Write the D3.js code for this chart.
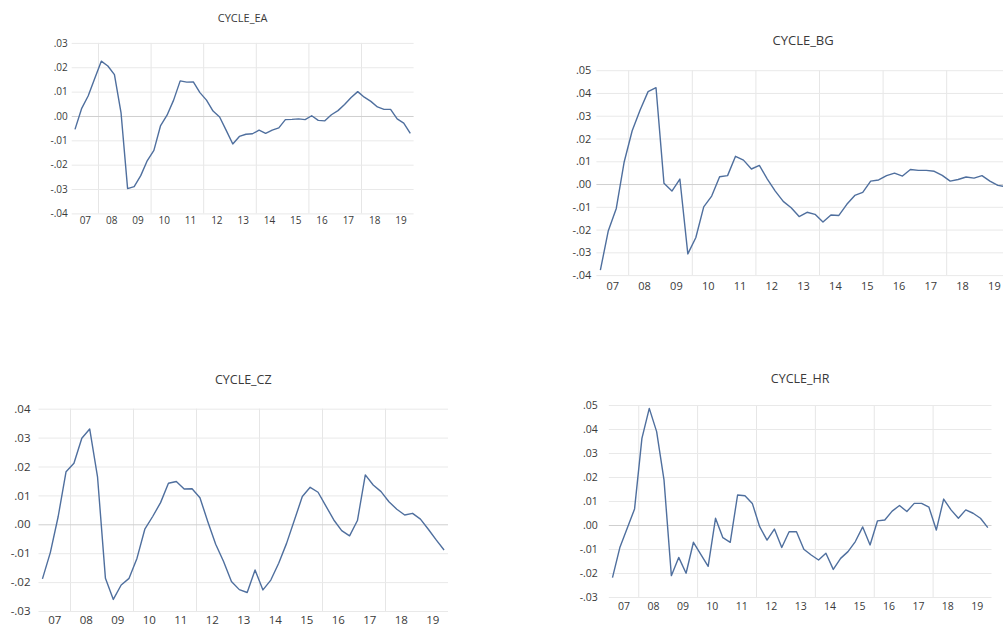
<!DOCTYPE html>
<html>
<head>
<meta charset="utf-8">
<script src="https://cdn.jsdelivr.net/npm/d3@7"></script>
<style>
  body { margin: 0; background: #fff; }
  svg { display: block; }
  text { font-family: "Open Sans", "Noto Sans", sans-serif; fill: #3a3a3a; }
</style>
</head>
<body>
<svg id="chart" width="1003" height="628"></svg>
<script>
// quarterly cycles, 2007Q1 .. 2019Q4
var years = ["07","08","09","10","11","12","13","14","15","16","17","18","19"];
var gridYears = ["08","10","12","14","16","18"];

var cycleEA = [
  -0.0055, 0.0030, 0.0082, 0.0154, 0.0225, 0.0205, 0.0170, 0.0014,
  -0.0298, -0.0290, -0.0245, -0.0183, -0.0141, -0.0041, 0.0003, 0.0065,
  0.0144, 0.0139, 0.0140, 0.0096, 0.0065, 0.0020, -0.0004, -0.0059,
  -0.0115, -0.0084, -0.0075, -0.0073, -0.0058, -0.0071, -0.0058, -0.0049,
  -0.0015, -0.0014, -0.0012, -0.0015, 0.0001, -0.0018, -0.0020, 0.0005,
  0.0022, 0.0047, 0.0076, 0.0100, 0.0077, 0.0060, 0.0037, 0.0027,
  0.0027, -0.0012, -0.0029, -0.0071
];
var cycleBG = [
  -0.0378, -0.0205, -0.0107, 0.0098, 0.0234, 0.0325, 0.0406, 0.0423,
  0.0003, -0.0031, 0.0022, -0.0307, -0.0236, -0.0100, -0.0053, 0.0032,
  0.0037, 0.0122, 0.0105, 0.0066, 0.0082, 0.0022, -0.0031, -0.0076,
  -0.0104, -0.0143, -0.0124, -0.0133, -0.0167, -0.0136, -0.0138, -0.0089,
  -0.0050, -0.0037, 0.0013, 0.0018, 0.0037, 0.0048, 0.0035, 0.0064,
  0.0060, 0.0060, 0.0056, 0.0038, 0.0013, 0.0020, 0.0031, 0.0026,
  0.0037, 0.0013, -0.0006, -0.0012
];
var cycleCZ = [
  -0.0189, -0.0098, 0.0027, 0.0182, 0.0211, 0.0298, 0.0330, 0.0163,
  -0.0187, -0.0260, -0.0210, -0.0187, -0.0118, -0.0017, 0.0027, 0.0075,
  0.0142, 0.0148, 0.0122, 0.0123, 0.0092, 0.0009, -0.0069, -0.0129,
  -0.0198, -0.0226, -0.0236, -0.0158, -0.0227, -0.0193, -0.0135, -0.0066,
  0.0015, 0.0096, 0.0128, 0.0111, 0.0063, 0.0015, -0.0022, -0.0040,
  0.0013, 0.0171, 0.0136, 0.0113, 0.0078, 0.0052, 0.0032, 0.0038,
  0.0018, -0.0017, -0.0054, -0.0089
];
var cycleHR = [
  -0.0219, -0.0094, -0.0014, 0.0067, 0.0361, 0.0486, 0.0389, 0.0188,
  -0.0211, -0.0135, -0.0201, -0.0072, -0.0122, -0.0172, 0.0028, -0.0053,
  -0.0072, 0.0125, 0.0122, 0.0090, -0.0007, -0.0063, -0.0017, -0.0094,
  -0.0028, -0.0028, -0.0101, -0.0125, -0.0146, -0.0118, -0.0185, -0.0139,
  -0.0111, -0.0069, -0.0008, -0.0083, 0.0017, 0.0021, 0.0058, 0.0081,
  0.0056, 0.0090, 0.0090, 0.0074, -0.0021, 0.0108, 0.0063, 0.0028,
  0.0063, 0.0049, 0.0028, -0.0011
];

var ticksEA = [0.03, 0.02, 0.01, 0, -0.01, -0.02, -0.03, -0.04];
var ticksBG = [0.05, 0.04, 0.03, 0.02, 0.01, 0, -0.01, -0.02, -0.03, -0.04];
var ticksCZ = [0.04, 0.03, 0.02, 0.01, 0, -0.01, -0.02, -0.03];
var ticksHR = [0.05, 0.04, 0.03, 0.02, 0.01, 0, -0.01, -0.02, -0.03];

var panels = [
  { title: "CYCLE_EA", data: cycleEA, ticks: ticksEA, x0: 71.7, x1: 413.6, yTop: 42.9, yBot: 213.4, titleY: 22, font: 10, titleFont: 11, pad: 4, labY: 227 },
  { title: "CYCLE_BG", data: cycleBG, ticks: ticksBG, x0: 596.4, x1: 1009.8, yTop: 70.2, yBot: 275.1, titleY: 45, font: 11, titleFont: 13, pad: 5, labY: 294 },
  { title: "CYCLE_CZ", data: cycleCZ, ticks: ticksCZ, x0: 38.5, x1: 448, yTop: 408.7, yBot: 611, titleY: 384, font: 11.5, titleFont: 12.5, pad: 8, labY: 628 },
  { title: "CYCLE_HR", data: cycleHR, ticks: ticksHR, x0: 608.8, x1: 991.5, yTop: 405, yBot: 597, titleY: 383, font: 10.5, titleFont: 12.5, pad: 11, labY: 614 }
];

function fmt(v) {
  var s = Math.abs(v).toFixed(2).replace(/^0/, "");
  return (v < -1e-9 ? "-" : "") + s;
}

var svg = d3.select("#chart");

panels.forEach(function (p) {
  var n = p.data.length;
  var x = d3.scaleLinear().domain([-0.5, n - 0.5]).range([p.x0, p.x1]);
  var y = d3.scaleLinear()
    .domain([d3.min(p.ticks), d3.max(p.ticks)])
    .range([p.yBot, p.yTop]);

  var g = svg.append("g");

  // vertical grid at the start of even years
  var gridIdx = gridYears.map(function (yr) { return years.indexOf(yr) * 4 - 0.5; });
  g.append("g")
    .attr("transform", "translate(0," + p.yBot + ")")
    .call(d3.axisBottom(x).tickValues(gridIdx).tickSize(-(p.yBot - p.yTop)).tickFormat(""))
    .call(function (a) {
      a.select(".domain").remove();
      a.selectAll("line").attr("stroke", "#e6e6e6").attr("stroke-width", 1);
    });

  // horizontal grid + value labels
  g.append("g")
    .attr("transform", "translate(" + p.x0 + ",0)")
    .call(d3.axisLeft(y).tickValues(p.ticks).tickSize(-(p.x1 - p.x0)).tickPadding(p.pad).tickFormat(fmt))
    .call(function (a) {
      a.select(".domain").remove();
      a.selectAll("line")
        .attr("stroke", function (d) { return d === 0 ? "#cfcfcf" : "#e9e9e9"; })
        .attr("stroke-width", 1);
      a.selectAll("text")
        .attr("font-size", p.font)
        .attr("font-family", "'Open Sans', 'Noto Sans', sans-serif")
        .attr("fill", "#3a3a3a");
    });

  // year labels centred in each year
  var labIdx = years.map(function (yr, i) { return i * 4 + 1.5; });
  g.append("g")
    .attr("transform", "translate(0," + (p.labY - p.font * 0.35) + ")")
    .call(d3.axisBottom(x).tickValues(labIdx).tickSize(0).tickPadding(0)
      .tickFormat(function (d, i) { return years[i]; }))
    .call(function (a) {
      a.select(".domain").remove();
      a.selectAll("text")
        .attr("dy", "0")
        .attr("font-size", p.font)
        .attr("font-family", "'Open Sans', 'Noto Sans', sans-serif")
        .attr("fill", "#3a3a3a");
    });

  g.append("text")
    .attr("x", (p.x0 + p.x1) / 2)
    .attr("y", p.titleY)
    .attr("text-anchor", "middle")
    .attr("font-size", p.titleFont)
    .text(p.title);

  var line = d3.line()
    .x(function (d, i) { return x(i); })
    .y(function (d) { return y(d); });

  g.append("path")
    .datum(p.data)
    .attr("fill", "none")
    .attr("stroke", "#4f6f9e")
    .attr("stroke-width", 1.4)
    .attr("stroke-linejoin", "round")
    .attr("d", line);
});
</script>
</body>
</html>
